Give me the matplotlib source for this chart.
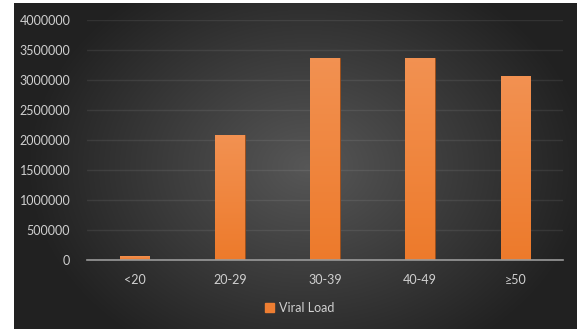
import numpy as np
import matplotlib
matplotlib.use("Agg")
import matplotlib.pyplot as plt
from matplotlib.patches import Rectangle

categories = ["<20", "20-29", "30-39", "40-49", "≥50"]
viral_load = [60000, 2080000, 3370000, 3370000, 3070000]
y_ticks = [0, 500000, 1000000, 1500000, 2000000, 2500000, 3000000, 3500000, 4000000]
series_name = "Viral Load"

plt.rcParams["font.family"] = ["Lato", "DejaVu Sans"]

W, H, DPI = 577, 331, 100
fig = plt.figure(figsize=(W / DPI, H / DPI), dpi=DPI)
fig.patch.set_facecolor("white")

# dark panel with a soft radial glow
panel = fig.add_axes([14 / W, 2 / H, (W - 14) / W, (H - 5) / H])
panel.set_axis_off()
ny, nx = 200, 350
yy, xx = np.mgrid[0:ny, 0:nx]
cx, cy = nx * 0.52, ny * 0.5
r = np.sqrt(((xx - cx) / nx) ** 2 + ((yy - cy) / ny * 0.75) ** 2)
shade = np.clip(0.34 - 0.42 * r, 0.13, 0.34)
panel.imshow(np.dstack([shade] * 3), aspect="auto", extent=[0, 1, 0, 1], interpolation="bicubic")
panel.set_xlim(0, 1)
panel.set_ylim(0, 1)

# plot area
left, right = 87 / W, 563 / W
top, bottom = 1 - 20 / H, 1 - 260 / H
ax = fig.add_axes([left, bottom, right - left, top - bottom])
ax.patch.set_alpha(0)
x = np.arange(len(categories))
bars = ax.bar(x, viral_load, width=0.31, color="#ee7e32", edgecolor="#9c4f1c",
              linewidth=0.7, zorder=3)

# lighter top-to-bottom tint on each bar
grad = np.linspace(1, 0, 64).reshape(-1, 1)
top_c = np.array([0.95, 0.57, 0.32])
bot_c = np.array([0.93, 0.48, 0.17])
img = grad[..., None] * top_c + (1 - grad[..., None]) * bot_c
for b in bars:
    bx, bw, bh = b.get_x(), b.get_width(), b.get_height()
    im = ax.imshow(img, extent=[bx, bx + bw, 0, bh], aspect="auto", zorder=3.5,
                   interpolation="bilinear")
    clip = Rectangle((bx, 0), bw, bh, transform=ax.transData)
    im.set_clip_path(clip)

ax.set_xlim(-0.5, len(categories) - 0.5)
ax.set_ylim(0, 4000000)
ax.set_yticks(y_ticks)
ax.set_yticklabels([str(v) for v in y_ticks])
ax.set_xticks(x)
ax.set_xticklabels(categories)
ax.grid(axis="y", color="white", alpha=0.08, linewidth=1.0, zorder=1)
for s in ["top", "right", "left"]:
    ax.spines[s].set_visible(False)
ax.spines["bottom"].set_color("#9a9a9a")
ax.spines["bottom"].set_linewidth(1.2)
ax.spines["bottom"].set_zorder(4)
ax.tick_params(axis="both", length=0, colors="#d0d0d0", labelsize=9)
ax.tick_params(axis="y", pad=12)
ax.tick_params(axis="x", pad=10)

leg = fig.legend([Rectangle((0, 0), 1, 1, color="#ee7e32")], [series_name],
                 loc="center", bbox_to_anchor=(300 / W, 1 - 308 / H),
                 frameon=False, handlelength=0.7, handleheight=0.7,
                 handletextpad=0.4, fontsize=9)
for t in leg.get_texts():
    t.set_color("#d0d0d0")

fig.savefig("out.png", dpi=DPI, facecolor=fig.get_facecolor())
